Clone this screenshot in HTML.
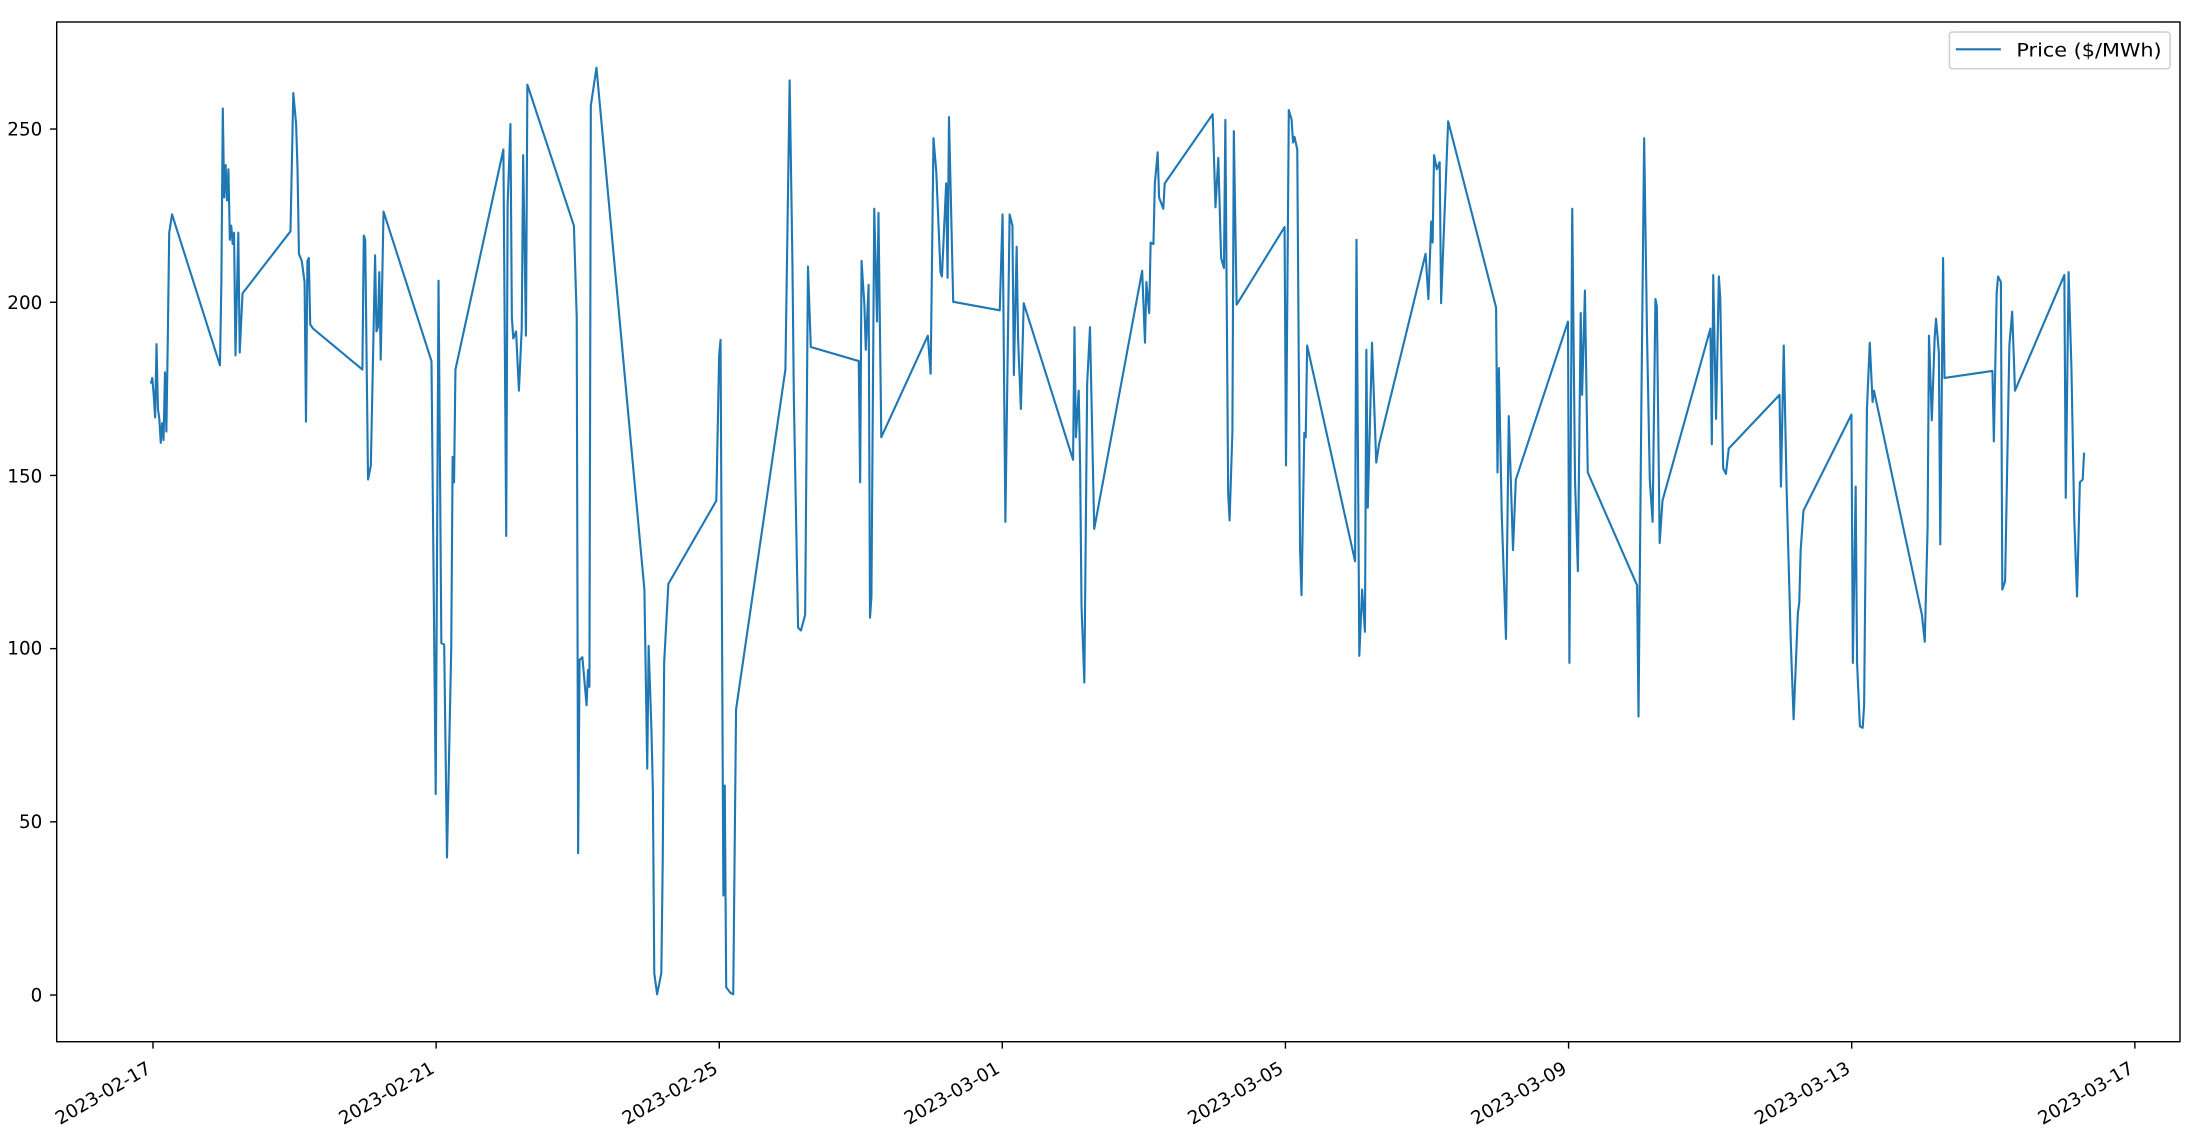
<!DOCTYPE html>
<html><head><meta charset="utf-8"><style>
html,body{margin:0;padding:0;background:#fff;}
svg{display:block;}
text{font-family:"DejaVu Sans","Liberation Sans",sans-serif;font-size:13px;fill:#000;}
</style></head><body>
<svg width="2211" height="1141" viewBox="0 0 1568 809" preserveAspectRatio="none">
<rect x="0" y="0" width="1568" height="809" fill="#fff"/>
<polyline fill="none" stroke="#1f77b4" stroke-width="1.5" stroke-linejoin="round" points="107,272 108,268 109,280 110,296 111,244 112,290 113,297 114,314 115,300 116,312 117,264 118,306 119,240 120,165 122,152 156,259 157,200 158,77 159,140 160,117 161,142 162,120 163,170 164,160 165,173 166,165 167,252 169,165 170,250 172,208 206,164 208,66 210,88 211,120 212,180 214,185 216,200 217,299 218,185 219,183 220,230 222,233 257,262 258,167 259,170 261,340 263,330 266,181 267,235 268,232 269,193 270,255 272,150 306,256 309,563 311,199 313,456 315,457 317,608 320,460 321,324 322,342 323,262 357,106 359,380 360,145 362,88 363,225 364,240 366,235 368,277 370,233 371,110 373,238 374,60 407,160 409,225 410,605 411,468 413,466 416,500 417,475 418,487 419,75 423,48 457,418 459,545 460,458 462,518 463,560 464,690 466,705 469,690 470,610 471,470 474,414 508,355 510,252 511,241 513,635 514,557 515,700 518,704 520,705 522,503 557,262 560,57 562,188 563,283 566,445 568,447 571,436 573,189 575,246 609,256 610,342 611,185 613,216 614,248 616,202 617,438 618,423 620,148 622,228 623,151 625,310 658,238 660,265 662,98 664,122 667,193 668,196 671,130 672,197 673,83 676,214 709,220 711,152 713,370 716,152 718,160 719,266 721,175 722,240 724,290 726,215 761,326 762,232 763,310 765,277 766,330 767,430 769,484 771,272 773,232 776,375 810,192 812,243 813,200 815,222 816,172 818,173 819,130 821,108 822,140 825,148 826,130 860,81 862,147 864,112 866,183 868,190 869,85 871,350 872,369 874,306 875,93 877,216 911,161 912,330 914,78 916,85 917,101 918,97 920,106 922,390 923,422 925,307 926,310 927,245 961,398 962,170 964,465 966,418 968,448 969,248 970,360 973,243 976,328 978,315 1011,180 1013,212 1015,157 1016,172 1017,110 1019,120 1021,115 1022,215 1027,86 1061,218 1062,335 1063,261 1065,365 1068,453 1070,295 1073,390 1075,340 1112,228 1113,470 1115,148 1117,342 1119,405 1121,222 1122,280 1124,206 1126,335 1161,415 1162,508 1164,290 1166,98 1168,235 1170,340 1172,370 1174,212 1175,217 1177,385 1179,355 1213,233 1214,315 1215,195 1217,297 1219,196 1220,212 1222,332 1224,336 1226,318 1262,280 1263,345 1265,245 1267,345 1270,455 1272,510 1275,435 1276,427 1277,390 1279,362 1313,294 1314,470 1316,345 1317,470 1319,515 1321,516 1322,500 1324,290 1326,243 1328,285 1329,277 1363,436 1365,455 1367,375 1368,238 1370,298 1372,240 1373,226 1375,250 1376,386 1378,183 1379,268 1413,263 1414,313 1416,208 1417,196 1419,200 1420,418 1422,412 1425,245 1427,221 1429,277 1464,195 1465,353 1467,193 1469,260 1471,367 1473,423 1475,342 1477,340 1478,321"/>
<rect x="40.2" y="15.6" width="1505.8" height="723" fill="none" stroke="#000" stroke-width="1"/>
<g stroke="#000" stroke-width="1">
<line x1="35.5" y1="705.5" x2="40.2" y2="705.5"/>
<line x1="35.5" y1="582.7" x2="40.2" y2="582.7"/>
<line x1="35.5" y1="459.9" x2="40.2" y2="459.9"/>
<line x1="35.5" y1="337.1" x2="40.2" y2="337.1"/>
<line x1="35.5" y1="214.3" x2="40.2" y2="214.3"/>
<line x1="35.5" y1="91.5" x2="40.2" y2="91.5"/>
<line x1="108.5" y1="738.6" x2="108.5" y2="743.5"/>
<line x1="309.3" y1="738.6" x2="309.3" y2="743.5"/>
<line x1="510.1" y1="738.6" x2="510.1" y2="743.5"/>
<line x1="710.8" y1="738.6" x2="710.8" y2="743.5"/>
<line x1="911.6" y1="738.6" x2="911.6" y2="743.5"/>
<line x1="1112.4" y1="738.6" x2="1112.4" y2="743.5"/>
<line x1="1313.2" y1="738.6" x2="1313.2" y2="743.5"/>
<line x1="1514" y1="738.6" x2="1514" y2="743.5"/>
</g>
<g text-anchor="end">
<text x="30" y="710">0</text>
<text x="30" y="587">50</text>
<text x="30" y="464">100</text>
<text x="30" y="342">150</text>
<text x="30" y="219">200</text>
<text x="30" y="96">250</text>
<text transform="translate(108,760) rotate(-30)">2023-02-17</text>
<text transform="translate(309,760) rotate(-30)">2023-02-21</text>
<text transform="translate(510,760) rotate(-30)">2023-02-25</text>
<text transform="translate(710,760) rotate(-30)">2023-03-01</text>
<text transform="translate(911,760) rotate(-30)">2023-03-05</text>
<text transform="translate(1112,760) rotate(-30)">2023-03-09</text>
<text transform="translate(1313,760) rotate(-30)">2023-03-13</text>
<text transform="translate(1514,760) rotate(-30)">2023-03-17</text>
</g>
<rect x="1382.5" y="22.7" width="156.5" height="26" rx="2" fill="#fff" stroke="#ccc" stroke-width="1"/>
<line x1="1387" y1="35" x2="1419" y2="35" stroke="#1f77b4" stroke-width="1.5"/>
<text x="1430" y="40" textLength="103" lengthAdjust="spacingAndGlyphs">Price ($/MWh)</text>
</svg>
</body></html>
